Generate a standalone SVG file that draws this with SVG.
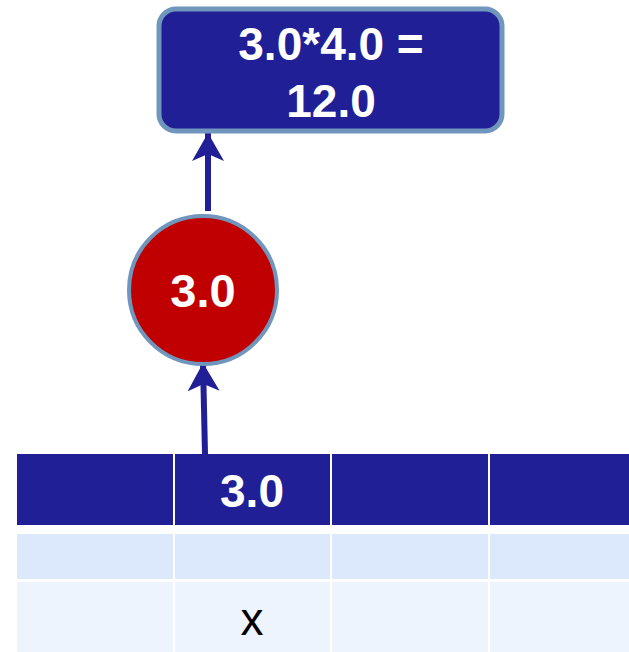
<svg xmlns="http://www.w3.org/2000/svg" width="629" height="652" viewBox="0 0 629 652">
<style>
.hdr{fill:#201F96}
.r2{fill:#DCE9FC}
.r3{fill:#EEF4FD}
.wt{fill:#fff;font-family:"Liberation Sans",Arial,sans-serif;font-weight:bold;text-anchor:middle}
.conn{stroke:#201F96;stroke-width:6;fill:none}
</style>
<defs>
<marker id="ah" markerUnits="userSpaceOnUse" markerWidth="32" markerHeight="44" refX="28" refY="16" orient="auto" viewBox="0 0 32 32">
<path d="M0,0 L28,16 L0,32 L7,16 Z" fill="#201F96"/>
</marker>
</defs>
<rect width="629" height="652" fill="#fff"/>
<g id="table">
<rect class="hdr" x="17" y="454" width="156" height="71"/>
<rect class="hdr" x="175" y="454" width="155" height="71"/>
<rect class="hdr" x="332" y="454" width="156" height="71"/>
<rect class="hdr" x="490" y="454" width="139" height="71"/>
<rect class="r2" x="17" y="534" width="156" height="45"/>
<rect class="r2" x="175" y="534" width="155" height="45"/>
<rect class="r2" x="332" y="534" width="156" height="45"/>
<rect class="r2" x="490" y="534" width="139" height="45"/>
<rect class="r3" x="17" y="582" width="156" height="70"/>
<rect class="r3" x="175" y="582" width="155" height="70"/>
<rect class="r3" x="332" y="582" width="156" height="70"/>
<rect class="r3" x="490" y="582" width="139" height="70"/>
<text class="wt" x="252" y="507" font-size="46">3.0</text>
<text x="252" y="635" font-size="46" text-anchor="middle" font-family="'Liberation Sans',Arial,sans-serif" fill="#000">x</text>
</g>
<g id="connectors">
<line class="conn" x1="205" y1="454" x2="203" y2="363" marker-end="url(#ah)"/>
<line class="conn" x1="208" y1="211" x2="208" y2="133" marker-end="url(#ah)"/>
</g>
<g id="circle">
<circle cx="203" cy="290" r="74" fill="#C00000" stroke="#7096BD" stroke-width="4"/>
<text class="wt" x="203" y="307" font-size="47">3.0</text>
</g>
<g id="result">
<rect x="159" y="9" width="343" height="122" rx="17" fill="#201F96" stroke="#7096BD" stroke-width="5"/>
<text class="wt" x="331" y="60" font-size="46">3.0*4.0 =</text>
<text class="wt" x="331" y="117" font-size="46">12.0</text>
</g>
</svg>
